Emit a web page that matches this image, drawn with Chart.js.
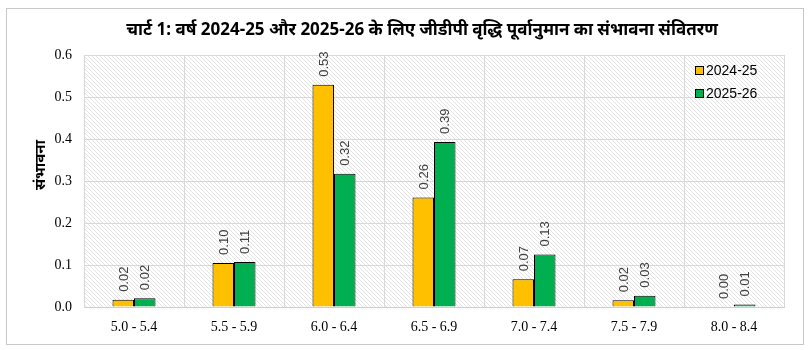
<!DOCTYPE html>
<html>
<head>
<meta charset="utf-8">
<script src="https://cdn.jsdelivr.net/npm/chart.js@4/dist/chart.umd.min.js"></script>
<style>
  html, body { margin: 0; padding: 0; background: #fff; }
  #wrap { width: 811px; height: 350px; position: relative; }
</style>
</head>
<body>
<div id="wrap"><canvas id="graphProb" width="811" height="350"></canvas></div>
<script>
var titleText = 'चार्ट 1: वर्ष 2024-25 और 2025-26 के लिए जीडीपी वृद्धि पूर्वानुमान का संभावना संवितरण';
var yTitle = 'संभावना';
var categories = ['5.0 - 5.4', '5.5 - 5.9', '6.0 - 6.4', '6.5 - 6.9', '7.0 - 7.4', '7.5 - 7.9', '8.0 - 8.4'];
var series1Name = '2024-25';
var series2Name = '2025-26';
var series1 = [0.017, 0.105, 0.529, 0.261, 0.066, 0.016, 0.0];
var series2 = [0.021, 0.107, 0.317, 0.393, 0.125, 0.027, 0.006];
var yTicks = [0.0, 0.1, 0.2, 0.3, 0.4, 0.5, 0.6];

var graphProb = null;

// diagonal hatch used behind the plot
function makeHatch(){
    let c = document.createElement('canvas');
    c.width = 4; c.height = 4;
    let x = c.getContext('2d');
    x.strokeStyle = '#e3e3e3';
    x.lineWidth = 1;
    x.beginPath();
    x.moveTo(-1, -1); x.lineTo(5, 5);
    x.moveTo(-1, 3); x.lineTo(1, 5);
    x.moveTo(3, -1); x.lineTo(5, 1);
    x.stroke();
    return x.createPattern(c, 'repeat');
}

var decorPlugin = {
    id: 'decor',
    beforeDraw: function(chart){
        let ctx = chart.ctx, a = chart.chartArea;
        ctx.save();
        ctx.fillStyle = '#fff';
        ctx.fillRect(0, 0, chart.width, chart.height);
        ctx.strokeStyle = '#c8c8c8';
        ctx.lineWidth = 1;
        ctx.strokeRect(6.5, 8.5, 797, 336);
        ctx.fillStyle = makeHatch();
        ctx.fillRect(a.left, a.top, a.right - a.left, a.bottom - a.top);
        ctx.restore();
    },
    afterDraw: function(chart){
        let ctx = chart.ctx;
        ctx.save();
        // title
        ctx.fillStyle = '#000';
        ctx.font = 'bold 17px "Liberation Sans Narrow", "Noto Sans", sans-serif';
        ctx.textAlign = 'center';
        ctx.textBaseline = 'middle';
        ctx.fillText(titleText, 422, 30);
        // y axis title
        ctx.translate(41, 165);
        ctx.rotate(-Math.PI / 2);
        ctx.font = 'bold 15px "Noto Sans", sans-serif';
        ctx.fillText(yTitle, 0, 0);
        ctx.restore();

        // value labels, rotated above each bar
        ctx.save();
        ctx.font = '13px "Liberation Sans", Arial, sans-serif';
        ctx.fillStyle = '#404040';
        chart.data.datasets.forEach(function(ds, i){
            let meta = chart.getDatasetMeta(i);
            meta.data.forEach(function(bar, j){
                ctx.save();
                ctx.translate(bar.x + 1, bar.y - 8);
                ctx.rotate(-Math.PI / 2);
                ctx.textAlign = 'left';
                ctx.textBaseline = 'middle';
                ctx.fillText(ds.data[j].toFixed(2), 0, 0);
                ctx.restore();
            });
        });
        ctx.restore();

        // legend inside plot, top right
        ctx.save();
        ctx.font = '14px "Liberation Sans", Arial, sans-serif';
        ctx.textBaseline = 'middle';
        chart.data.datasets.forEach(function(ds, i){
            let y = 71 + i * 23;
            ctx.fillStyle = ds.backgroundColor;
            ctx.fillRect(696, y - 4, 8, 8);
            ctx.strokeStyle = '#000';
            ctx.lineWidth = 1;
            ctx.strokeRect(695.5, y - 4.5, 8, 8);
            ctx.fillStyle = '#000';
            ctx.fillText(ds.label, 706, y);
        });
        ctx.restore();
    }
};

function drawGraph(){
    graphProb = new Chart('graphProb', {
        type: 'bar',
        data: {
            labels: categories,
            datasets: [
                { label: series1Name, data: series1, backgroundColor: '#FFC000', borderColor: '#000', borderWidth: 1 },
                { label: series2Name, data: series2, backgroundColor: '#00B050', borderColor: '#000', borderWidth: 1 }
            ]
        },
        options: {
            responsive: false,
            animation: false,
            devicePixelRatio: 1,
            layout: { padding: { left: 0, top: 55, right: 27, bottom: 0 } },
            datasets: { bar: { barPercentage: 1, categoryPercentage: 0.43 } },
            plugins: { legend: { display: false }, title: { display: false }, tooltip: { enabled: false } },
            scales: {
                x: {
                    grid: { color: '#d9d9d9', tickLength: 0, offset: true },
                    border: { color: '#d0d0d0' },
                    ticks: { color: '#000', padding: 12, font: { family: '"Liberation Serif", serif', size: 14 } },
                    afterFit: function(s){ s.height = 43; }
                },
                y: {
                    min: 0, max: 0.6,
                    afterBuildTicks: function(s){ s.ticks = yTicks.map(function(v){ return { value: v }; }); },
                    grid: { color: '#d9d9d9', tickLength: 0 },
                    border: { color: '#d9d9d9' },
                    ticks: {
                        color: '#000', padding: 12,
                        font: { family: '"Liberation Serif", serif', size: 14 },
                        callback: function(v){ return Number(v).toFixed(1); }
                    },
                    afterFit: function(s){ s.width = 84; }
                }
            }
        },
        plugins: [decorPlugin]
    });
}

drawGraph();
</script>
</body>
</html>
